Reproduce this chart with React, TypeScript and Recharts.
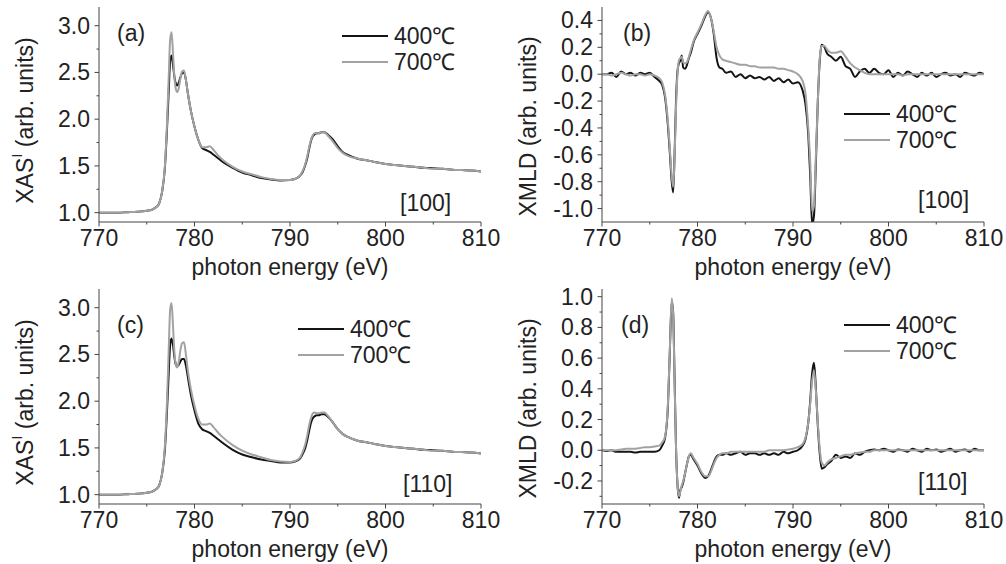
import { LineChart, Line, XAxis, YAxis, Legend } from "recharts"

// energy grids (eV)
const eXas = [
  770, 771, 772, 773, 774, 775, 775.5, 776, 776.3, 776.6,
  776.9, 777.1, 777.3, 777.45, 777.6, 777.75, 777.9, 778.05, 778.2, 778.35,
  778.5, 778.7, 778.9, 779.1, 779.3, 779.6, 780, 780.4, 780.8, 781.2,
  781.6, 782, 782.5, 783, 784, 785, 786, 787, 788, 789,
  790, 790.5, 791, 791.3, 791.6, 791.8, 792, 792.2, 792.4, 792.6,
  792.8, 793, 793.3, 793.6, 794, 794.5, 795, 795.5, 796, 797,
  798, 799, 800, 801, 802, 803, 804, 805, 806, 807,
  808, 809, 810,
]

const eXmld = [
  770, 770.5, 771, 771.5, 772, 772.5, 773, 773.5, 774, 774.5,
  775, 775.5, 776, 776.3, 776.6, 776.9, 777.1, 777.3, 777.45, 777.6,
  777.75, 777.9, 778.05, 778.2, 778.35, 778.5, 778.7, 778.9, 779.1, 779.3,
  779.6, 780, 780.4, 780.8, 781.1, 781.4, 781.7, 782, 782.3, 782.6,
  783, 783.5, 784, 784.5, 785, 785.5, 786, 786.5, 787, 787.5,
  788, 788.5, 789, 789.5, 790, 790.5, 791, 791.3, 791.6, 791.8,
  792, 792.2, 792.4, 792.6, 792.8, 793, 793.3, 793.6, 794, 794.5,
  795, 795.5, 796, 796.5, 797, 797.5, 798, 798.5, 799, 799.5,
  800, 800.5, 801, 801.5, 802, 802.5, 803, 803.5, 804, 804.5,
  805, 805.5, 806, 806.5, 807, 807.5, 808, 808.5, 809, 809.5,
  810,
]

// (a) XAS [100]
const xasA400 = [
  1.0, 1.0, 1.0, 1.005, 1.01, 1.02, 1.03, 1.06, 1.1, 1.22,
  1.48, 1.85, 2.3, 2.62, 2.68, 2.58, 2.45, 2.38, 2.36, 2.39,
  2.44, 2.49, 2.5, 2.42, 2.28, 2.1, 1.92, 1.78, 1.69, 1.67,
  1.65, 1.62, 1.58, 1.54, 1.48, 1.43, 1.4, 1.37, 1.355, 1.345,
  1.35, 1.36, 1.39, 1.43, 1.51, 1.58, 1.68, 1.77, 1.82, 1.84,
  1.85, 1.85, 1.86, 1.86, 1.83, 1.78, 1.71, 1.65, 1.62, 1.58,
  1.56, 1.54, 1.52, 1.51, 1.5, 1.49, 1.48, 1.475, 1.47, 1.46,
  1.455, 1.45, 1.44,
]
const xasA700 = [
  1.0, 1.0, 1.0, 1.005, 1.01, 1.02, 1.03, 1.06, 1.1, 1.22,
  1.5, 1.9, 2.45, 2.85, 2.93, 2.7, 2.45, 2.32, 2.29, 2.33,
  2.42, 2.51, 2.52, 2.42, 2.28, 2.1, 1.92, 1.78, 1.7, 1.7,
  1.71, 1.67, 1.61, 1.56, 1.49, 1.44, 1.41, 1.38, 1.36, 1.35,
  1.35, 1.36, 1.39, 1.44, 1.52, 1.6, 1.7, 1.78, 1.83, 1.85,
  1.85, 1.85, 1.86, 1.86, 1.82, 1.76, 1.69, 1.64, 1.61, 1.58,
  1.56, 1.54, 1.52, 1.51, 1.5, 1.49, 1.48, 1.47, 1.47, 1.46,
  1.455, 1.45, 1.44,
]

// (c) XAS [110]
const xasC400 = [
  1.0, 1.0, 1.0, 1.005, 1.01, 1.02, 1.03, 1.06, 1.1, 1.22,
  1.48, 1.85, 2.3, 2.6, 2.67, 2.6, 2.47, 2.39, 2.37, 2.39,
  2.42, 2.45, 2.45, 2.38, 2.26, 2.08, 1.9, 1.76, 1.7, 1.68,
  1.66, 1.63, 1.59, 1.55, 1.48, 1.43, 1.4, 1.375, 1.36, 1.345,
  1.345, 1.355, 1.38, 1.43, 1.5, 1.58, 1.68, 1.77, 1.82, 1.84,
  1.85, 1.85, 1.86, 1.86, 1.83, 1.77, 1.7, 1.65, 1.62, 1.58,
  1.56, 1.54, 1.52, 1.51, 1.5, 1.49, 1.48, 1.475, 1.47, 1.46,
  1.455, 1.45, 1.44,
]
const xasC700 = [
  1.0, 1.0, 1.0, 1.005, 1.01, 1.02, 1.03, 1.06, 1.1, 1.22,
  1.52, 1.95, 2.55, 2.98, 3.05, 2.8, 2.52, 2.39, 2.36, 2.42,
  2.53, 2.62, 2.63, 2.5, 2.33, 2.14, 1.95, 1.81, 1.75, 1.75,
  1.76, 1.72, 1.66, 1.61, 1.53, 1.47, 1.43, 1.4, 1.37, 1.355,
  1.35, 1.36, 1.39, 1.45, 1.54, 1.63, 1.74, 1.82, 1.87, 1.88,
  1.87, 1.87, 1.88, 1.88, 1.84, 1.77, 1.7, 1.65, 1.62, 1.58,
  1.56, 1.54, 1.52, 1.51, 1.5, 1.49, 1.48, 1.47, 1.47, 1.46,
  1.455, 1.45, 1.44,
]

// (b) XMLD [100]
const xmldB400 = [
  0.0, 0.0, 0.01, -0.02, 0.02, 0.0, 0.01, -0.01, 0.01, 0.0,
  0.01, -0.02, -0.05, -0.08, -0.17, -0.38, -0.58, -0.8, -0.88, -0.6,
  -0.2, 0.02, 0.08, 0.1, 0.14, 0.05, 0.04, 0.07, 0.12, 0.16,
  0.24, 0.3, 0.36, 0.43, 0.46, 0.42, 0.3, 0.12, 0.05, 0.04,
  0.01, 0.02, -0.02, 0.0, -0.03, -0.01, -0.03, -0.02, -0.04, -0.02,
  -0.05, -0.03, -0.06, -0.04, -0.07, -0.06, -0.12, -0.22, -0.45, -0.75,
  -1.12, -1.05, -0.65, -0.2, 0.1, 0.22, 0.2, 0.15, 0.13, 0.1,
  0.13, 0.06, 0.04, -0.02, 0.02, 0.04, 0.01, 0.04, 0.01, 0.0,
  0.03, -0.02, 0.01, -0.01, 0.02, 0.0, -0.02, 0.01, -0.01, 0.01,
  -0.02, 0.0, 0.01, -0.01, 0.0, -0.02, 0.01, 0.0, -0.01, 0.01,
  0.0,
]
const xmldB700 = [
  0.0, 0.0, -0.01, 0.0, 0.01, 0.0, -0.01, 0.0, 0.0, -0.01,
  0.0, -0.01, -0.03, -0.06, -0.15, -0.35, -0.55, -0.76, -0.84, -0.62,
  -0.25, 0.0, 0.1, 0.12, 0.13, 0.09, 0.08, 0.09, 0.13, 0.18,
  0.25, 0.31, 0.37, 0.44, 0.47, 0.42, 0.32, 0.2, 0.14, 0.11,
  0.1, 0.09, 0.08, 0.07, 0.07, 0.06, 0.06, 0.05, 0.05, 0.05,
  0.05, 0.04, 0.04, 0.03, 0.02, 0.0, -0.05, -0.14, -0.4, -0.65,
  -1.02, -0.98, -0.6, -0.2, 0.12, 0.21, 0.21, 0.18, 0.16, 0.16,
  0.17, 0.13, 0.08, 0.05, 0.03, 0.01, 0.0, 0.0, 0.0, 0.0,
  0.0, 0.0, 0.0, -0.01, 0.0, 0.0, 0.0, 0.0, 0.0, 0.0,
  0.0, 0.0, 0.0, 0.0, 0.0, 0.0, 0.0, 0.0, 0.0, 0.0,
  0.0,
]

// (d) XMLD [110]
const xmldD400 = [
  0.0, -0.005, 0.0, -0.01, -0.01, -0.01, -0.01, -0.015, -0.01, -0.01,
  -0.01, -0.01, 0.0, 0.03, 0.08, 0.28, 0.64, 0.97, 0.9, 0.47,
  0.02, -0.22, -0.31, -0.26, -0.24, -0.21, -0.15, -0.09, -0.04, -0.03,
  -0.06, -0.1, -0.15, -0.18, -0.17, -0.13, -0.08, -0.04, -0.03, -0.03,
  -0.02, -0.03, -0.02, -0.01, -0.03, -0.02, -0.02, -0.03, -0.02, -0.03,
  -0.02, -0.03, -0.01, -0.02, -0.01, 0.0, 0.03, 0.07, 0.18, 0.32,
  0.5, 0.57, 0.4, 0.16, -0.02, -0.12, -0.11, -0.09, -0.07, -0.03,
  -0.05, -0.04, -0.05, -0.02, -0.03, -0.01, 0.0, 0.005, 0.0, 0.01,
  0.0, -0.01, 0.005, 0.0, -0.01, 0.01, 0.0, -0.01, 0.01, 0.0,
  0.005, -0.01, 0.0, 0.01, -0.01, 0.0, 0.005, -0.01, 0.01, 0.0,
  0.0,
]
const xmldD700 = [
  0.0, 0.0, 0.0, 0.0, 0.005, 0.01, 0.01, 0.01, 0.015, 0.02,
  0.02, 0.025, 0.03, 0.05, 0.09, 0.3, 0.65, 0.99, 0.88, 0.45,
  0.02, -0.22, -0.3, -0.27, -0.23, -0.2, -0.15, -0.09, -0.04, -0.02,
  -0.05, -0.09, -0.14, -0.17, -0.17, -0.14, -0.09, -0.05, -0.03, -0.02,
  -0.02, -0.01, -0.01, -0.01, -0.01, -0.01, -0.01, -0.01, -0.01, 0.0,
  0.0, 0.0, 0.0, 0.005, 0.01, 0.02, 0.04, 0.08, 0.18, 0.3,
  0.45, 0.52, 0.38, 0.18, 0.01, -0.08, -0.1, -0.08, -0.06, -0.05,
  -0.04, -0.03, -0.03, -0.02, -0.015, -0.01, -0.01, 0.0, 0.0, 0.0,
  0.0, 0.0, 0.0, 0.0, 0.0, 0.0, 0.0, 0.0, 0.0, 0.0,
  0.0, 0.0, 0.0, 0.0, 0.0, 0.0, 0.0, 0.0, 0.0, 0.0,
  0.0,
]

const xTicks = [770, 775, 780, 785, 790, 795, 800, 805, 810]
const xasTicks = [1.0, 1.25, 1.5, 1.75, 2.0, 2.25, 2.5, 2.75, 3.0]
const xmldBTicks = [-1.0, -0.9, -0.8, -0.7, -0.6, -0.5, -0.4, -0.3, -0.2, -0.1, 0.0, 0.1, 0.2, 0.3, 0.4]
const xmldDTicks = [-0.3, -0.2, -0.1, 0.0, 0.1, 0.2, 0.3, 0.4, 0.5, 0.6, 0.7, 0.8, 0.9, 1.0]
const seriesNames = ["400℃", "700℃"]

const FONT = "'Liberation Sans', Arial, Helvetica, sans-serif"
const INK = "#222"
const FRAME = "#444"
const C400 = "#141414"
const C700 = "#a2a2a2"

const zip = (e: number[], a: number[], b: number[]) =>
  e.map((x, i) => ({ e: x, s400: a[i], s700: b[i] }))

function fmtY(v: number) {
  if (Math.abs(v) < 1e-9) return "0.0"
  return v.toFixed(1)
}

function axisTick(side: string, step: number) {
  return function Tick(props: any) {
    const { x, y, payload } = props
    const v = payload.value
    const major = Math.abs(v / step - Math.round(v / step)) < 1e-6
    const len = major ? 4.5 : 2.5
    if (side === "bottom") {
      return (
        <g>
          <line x1={x} y1={y} x2={x} y2={y + len} stroke={FRAME} />
          {major && (
            <text x={x} y={y + 16} textAnchor="middle" dominantBaseline="central" fontSize={23} fill={INK} fontFamily={FONT}>
              {String(v)}
            </text>
          )}
        </g>
      )
    }
    if (side === "top") return <line x1={x} y1={y} x2={x} y2={y + len} stroke={FRAME} />
    if (side === "right") return <line x1={x} y1={y} x2={x - len} y2={y} stroke={FRAME} />
    return (
      <g>
        <line x1={x} y1={y} x2={x - len} y2={y} stroke={FRAME} />
        {major && (
          <text x={x - 9} y={y} textAnchor="end" dominantBaseline="central" fontSize={23} fill={INK} fontFamily={FONT}>
            {fmtY(v)}
          </text>
        )}
      </g>
    )
  }
}

function YTitle(props: any) {
  const { viewBox, main, sup, shift } = props
  const cx = viewBox.x + 25
  const cy = viewBox.y + viewBox.height / 2 + shift
  return (
    <text x={cx} y={cy} transform={`rotate(-90 ${cx} ${cy})`} textAnchor="middle" dominantBaseline="central" fontSize={23} fill={INK} fontFamily={FONT}>
      {main}
      {sup ? <tspan dy={-9} fontSize={15}>{sup}</tspan> : null}
      <tspan dy={sup ? 9 : 0}> (arb. units)</tspan>
    </text>
  )
}

function XTitle(props: any) {
  const { viewBox } = props
  const cx = viewBox.x + viewBox.width / 2
  const cy = viewBox.y + 45
  return (
    <text x={cx} y={cy} textAnchor="middle" dominantBaseline="central" fontSize={23} fill={INK} fontFamily={FONT}>
      photon energy (eV)
    </text>
  )
}

function LegendBox(props: any) {
  const items = props.payload || []
  return (
    <svg width={140} height={56} style={{ display: "block" }}>
      {items.map((it: any, i: number) => (
        <g key={i}>
          <line x1={0} x2={46} y1={13 + i * 26} y2={13 + i * 26} stroke={it.color} strokeWidth={2} />
          <text x={52} y={13 + i * 26} dominantBaseline="central" fontSize={23} fill={INK} fontFamily={FONT}>
            {it.value}
          </text>
        </g>
      ))}
    </svg>
  )
}

interface PanelProps {
  left: number
  top: number
  data: { e: number; s400: number; s700: number }[]
  yDomain: [number, number]
  yTicks: number[]
  yStep: number
  yMain: string
  ySup?: string
  yShift: number
  tag: string
  tagPos: [number, number]
  dir: string
  dirPos: [number, number]
  legendPos: [number, number]
}

function Panel(p: PanelProps) {
  const txt = (s: string, x: number, y: number) => (
    <div
      style={{
        position: "absolute", left: x, top: y, transform: "translateY(-50%)",
        fontFamily: FONT, fontSize: 23, lineHeight: 1, color: INK, whiteSpace: "nowrap",
      }}
    >
      {s}
    </div>
  )
  return (
    <div style={{ position: "absolute", left: p.left, top: p.top, width: 503, height: 282 }}>
      <LineChart width={503} height={282} data={p.data} margin={{ top: 7, right: 22, bottom: 0, left: 0 }}>
        <XAxis
          dataKey="e" type="number" domain={[770, 810]} ticks={xTicks} interval={0} allowDataOverflow
          height={60} tickSize={0} tickMargin={0} tickLine={false} stroke={FRAME}
          tick={axisTick("bottom", 10)} label={<XTitle />}
        />
        <XAxis
          xAxisId="top" orientation="top" dataKey="e" type="number" domain={[770, 810]} ticks={xTicks}
          interval={0} allowDataOverflow height={0} tickSize={0} tickMargin={0} tickLine={false}
          stroke={FRAME} tick={axisTick("top", 10)}
        />
        <YAxis
          type="number" domain={p.yDomain} ticks={p.yTicks} interval={0} allowDataOverflow width={99}
          tickSize={0} tickMargin={0} tickLine={false} stroke={FRAME} tick={axisTick("left", p.yStep)}
          label={<YTitle main={p.yMain} sup={p.ySup} shift={p.yShift} />}
        />
        <YAxis
          yAxisId="right" orientation="right" type="number" domain={p.yDomain} ticks={p.yTicks}
          interval={0} allowDataOverflow width={0} tickSize={0} tickMargin={0} tickLine={false}
          stroke={FRAME} tick={axisTick("right", p.yStep)}
        />
        <Legend
          layout="vertical" align="center" verticalAlign="middle" content={<LegendBox />}
          wrapperStyle={{ left: p.legendPos[0], top: p.legendPos[1], width: 140, height: 56 }}
        />
        <Line type="monotone" dataKey="s400" name={seriesNames[0]} stroke={C400} strokeWidth={2}
          dot={false} activeDot={false} isAnimationActive={false} />
        <Line type="monotone" dataKey="s700" name={seriesNames[1]} stroke={C700} strokeWidth={2}
          dot={false} activeDot={false} isAnimationActive={false} />
      </LineChart>
      {txt(p.tag, p.tagPos[0], p.tagPos[1])}
      {txt(p.dir, p.dirPos[0], p.dirPos[1])}
    </div>
  )
}

export default function App() {
  return (
    <div style={{ position: "absolute", left: 0, top: 0, width: 1006, height: 564, background: "#fff" }}>
      <Panel
        left={0} top={0} data={zip(eXas, xasA400, xasA700)} yDomain={[0.9, 3.2]} yTicks={xasTicks} yStep={0.5}
        yMain="XAS" ySup="I" yShift={6} tag="(a)" tagPos={[117, 33]} dir="[100]" dirPos={[400, 203]} legendPos={[342, 23]}
      />
      <Panel
        left={503} top={0} data={zip(eXmld, xmldB400, xmldB700)} yDomain={[-1.1, 0.5]} yTicks={xmldBTicks} yStep={0.2}
        yMain="XMLD" yShift={12} tag="(b)" tagPos={[120, 33]} dir="[100]" dirPos={[415, 200]} legendPos={[341, 101]}
      />
      <Panel
        left={0} top={282} data={zip(eXas, xasC400, xasC700)} yDomain={[0.9, 3.2]} yTicks={xasTicks} yStep={0.5}
        yMain="XAS" ySup="I" yShift={6} tag="(c)" tagPos={[117, 43]} dir="[110]" dirPos={[403, 202]} legendPos={[298, 34]}
      />
      <Panel
        left={503} top={282} data={zip(eXmld, xmldD400, xmldD700)} yDomain={[-0.35, 1.05]} yTicks={xmldDTicks} yStep={0.2}
        yMain="XMLD" yShift={12} tag="(d)" tagPos={[118, 43]} dir="[110]" dirPos={[415, 200]} legendPos={[341, 30]}
      />
    </div>
  )
}
